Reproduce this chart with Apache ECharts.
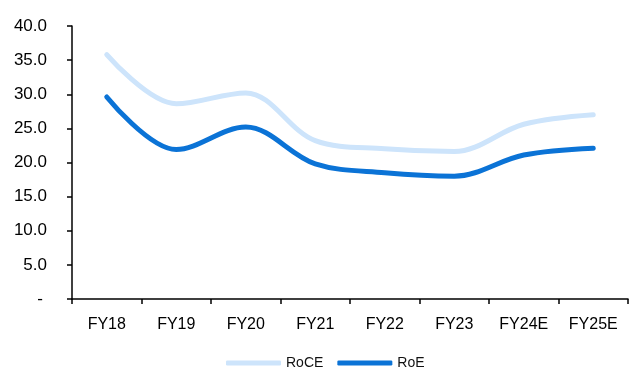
<!DOCTYPE html>
<html>
<head>
<meta charset="utf-8">
<script src="https://cdn.jsdelivr.net/npm/echarts@6/dist/echarts.min.js"></script>
<style>
  html, body { margin: 0; padding: 0; background: #fff; }
  #chart { width: 632px; height: 374px; }
</style>
</head>
<body>
<div id="chart"></div>
<script>
// Fiscal years on the category axis
const years = ['FY18', 'FY19', 'FY20', 'FY21', 'FY22', 'FY23', 'FY24E', 'FY25E'];
// Return ratios in percent
const roce = [35.8, 28.6, 30.2, 23.2, 22.0, 21.6, 25.6, 27.0];
const roe = [29.6, 21.9, 25.2, 19.8, 18.5, 18.0, 21.1, 22.1];

const font = "'Liberation Sans', Arial, sans-serif";

const chart = echarts.init(document.getElementById('chart'));
chart.setOption({
  animation: false,
  backgroundColor: '#ffffff',
  grid: { left: 72, right: 4, top: 26, bottom: 75, containLabel: false },
  legend: {
    bottom: 4,
    left: 226,
    padding: 0,
    icon: 'roundRect',
    itemWidth: 55,
    itemHeight: 5,
    itemGap: 14,
    textStyle: { fontFamily: font, fontSize: 14, color: '#111' },
    data: ['RoCE', 'RoE']
  },
  xAxis: {
    type: 'category',
    data: years,
    boundaryGap: true,
    axisLine: { lineStyle: { color: '#000', width: 1.5 } },
    axisTick: { show: true, length: 5, lineStyle: { color: '#000', width: 1.5 } },
    axisLabel: { fontFamily: font, fontSize: 16, color: '#000', margin: 18, interval: 0 }
  },
  yAxis: {
    type: 'value',
    min: 0,
    max: 40,
    interval: 5,
    splitLine: { show: false },
    axisLine: { show: true, lineStyle: { color: '#000', width: 1.5 } },
    axisTick: { show: true, length: 5, lineStyle: { color: '#000', width: 1.5 } },
    axisLabel: {
      fontFamily: font,
      fontSize: 17,
      color: '#000',
      margin: 25,
      formatter: v => (v === 0 ? '{d|-}' : v.toFixed(1)),
      rich: { d: { fontFamily: font, fontSize: 17, color: '#000', padding: [0, 4, 0, 0] } }
    }
  },
  series: [
    {
      name: 'RoCE',
      type: 'line',
      data: roce,
      smooth: 0.35,
      showSymbol: false,
      symbol: 'none',
      color: '#cde4fb',
      lineStyle: { color: '#cde4fb', width: 5, cap: 'round' }
    },
    {
      name: 'RoE',
      type: 'line',
      data: roe,
      smooth: 0.35,
      showSymbol: false,
      symbol: 'none',
      color: '#0b73d6',
      lineStyle: { color: '#0b73d6', width: 5, cap: 'round' }
    }
  ]
});
</script>
</body>
</html>
